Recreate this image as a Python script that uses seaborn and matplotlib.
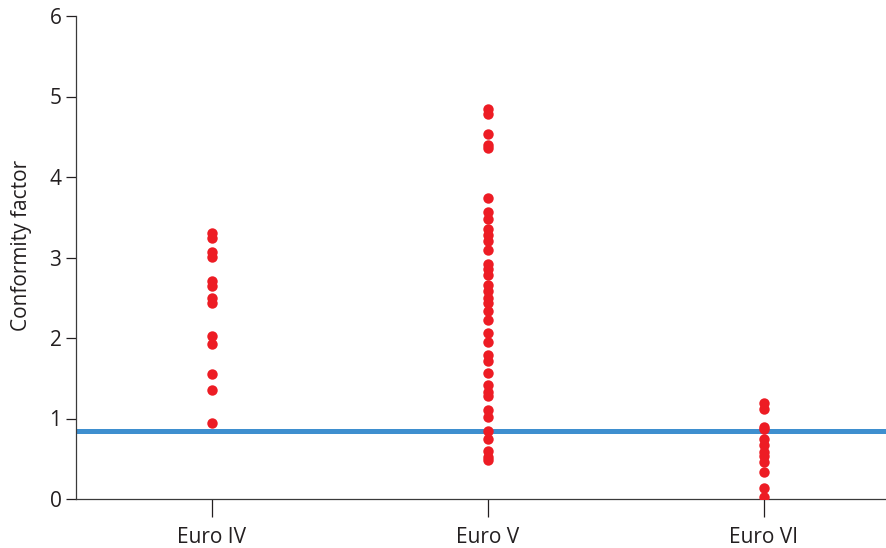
import pandas as pd
import matplotlib
matplotlib.use('Agg')
import matplotlib.pyplot as plt
import seaborn as sns

# --------------------------------
# Data
# --------------------------------
categories = ['Euro IV', 'Euro V', 'Euro VI']

euro_iv = [3.31, 3.24, 3.07, 3.01, 2.71, 2.65, 2.50, 2.43, 2.02, 1.92, 1.55, 1.35, 0.94]
euro_v = [4.84, 4.78, 4.54, 4.40, 4.36, 3.74, 3.57, 3.48, 3.36, 3.28, 3.20, 3.09,
          2.92, 2.86, 2.78, 2.66, 2.58, 2.50, 2.43, 2.33, 2.22, 2.06, 1.95, 1.79,
          1.71, 1.57, 1.42, 1.33, 1.28, 1.11, 1.02, 0.85, 0.75, 0.60, 0.52, 0.48]
euro_vi = [1.19, 1.12, 0.90, 0.87, 0.75, 0.67, 0.59, 0.53, 0.46, 0.34, 0.14, 0.03]

limit_value = 0.845

df = pd.DataFrame({
    'Standard': ['Euro IV'] * len(euro_iv) + ['Euro V'] * len(euro_v) + ['Euro VI'] * len(euro_vi),
    'Conformity factor': euro_iv + euro_v + euro_vi,
})

sns.set_style("ticks")
plt.rcParams['font.family'] = ['Open Sans', 'DejaVu Sans']

text_color = '#231F20'

fig = plt.figure(figsize=(8.87, 5.48), dpi=100)
ax = fig.add_axes([76 / 887, 49 / 548, 1 - 76 / 887, (499 - 16) / 548])

ax.axhline(limit_value, color='#3E8FCF', linewidth=3.6, zorder=1)

sns.stripplot(
    data=df, x='Standard', y='Conformity factor', order=categories,
    jitter=False, color='#ED1C24', size=7.5, linewidth=0, ax=ax, zorder=3
)

ax.set_xlim(-0.493, 2.446)
ax.set_ylim(0, 6)
ax.set_yticks(range(0, 7))
ax.set_xlabel('')
ax.set_ylabel('Conformity factor', fontsize=15, color=text_color)
ax.yaxis.set_label_coords(-0.054, 0.525)

ax.tick_params(axis='both', labelsize=15, colors=text_color, width=0.9)
ax.tick_params(axis='y', length=7, pad=3.5)
ax.tick_params(axis='x', length=13, pad=7)
for side in ['top', 'right']:
    ax.spines[side].set_visible(False)
for side in ['left', 'bottom']:
    ax.spines[side].set_color('#3A3A3A')
    ax.spines[side].set_linewidth(0.9)

fig.savefig('out.png', dpi=100)
